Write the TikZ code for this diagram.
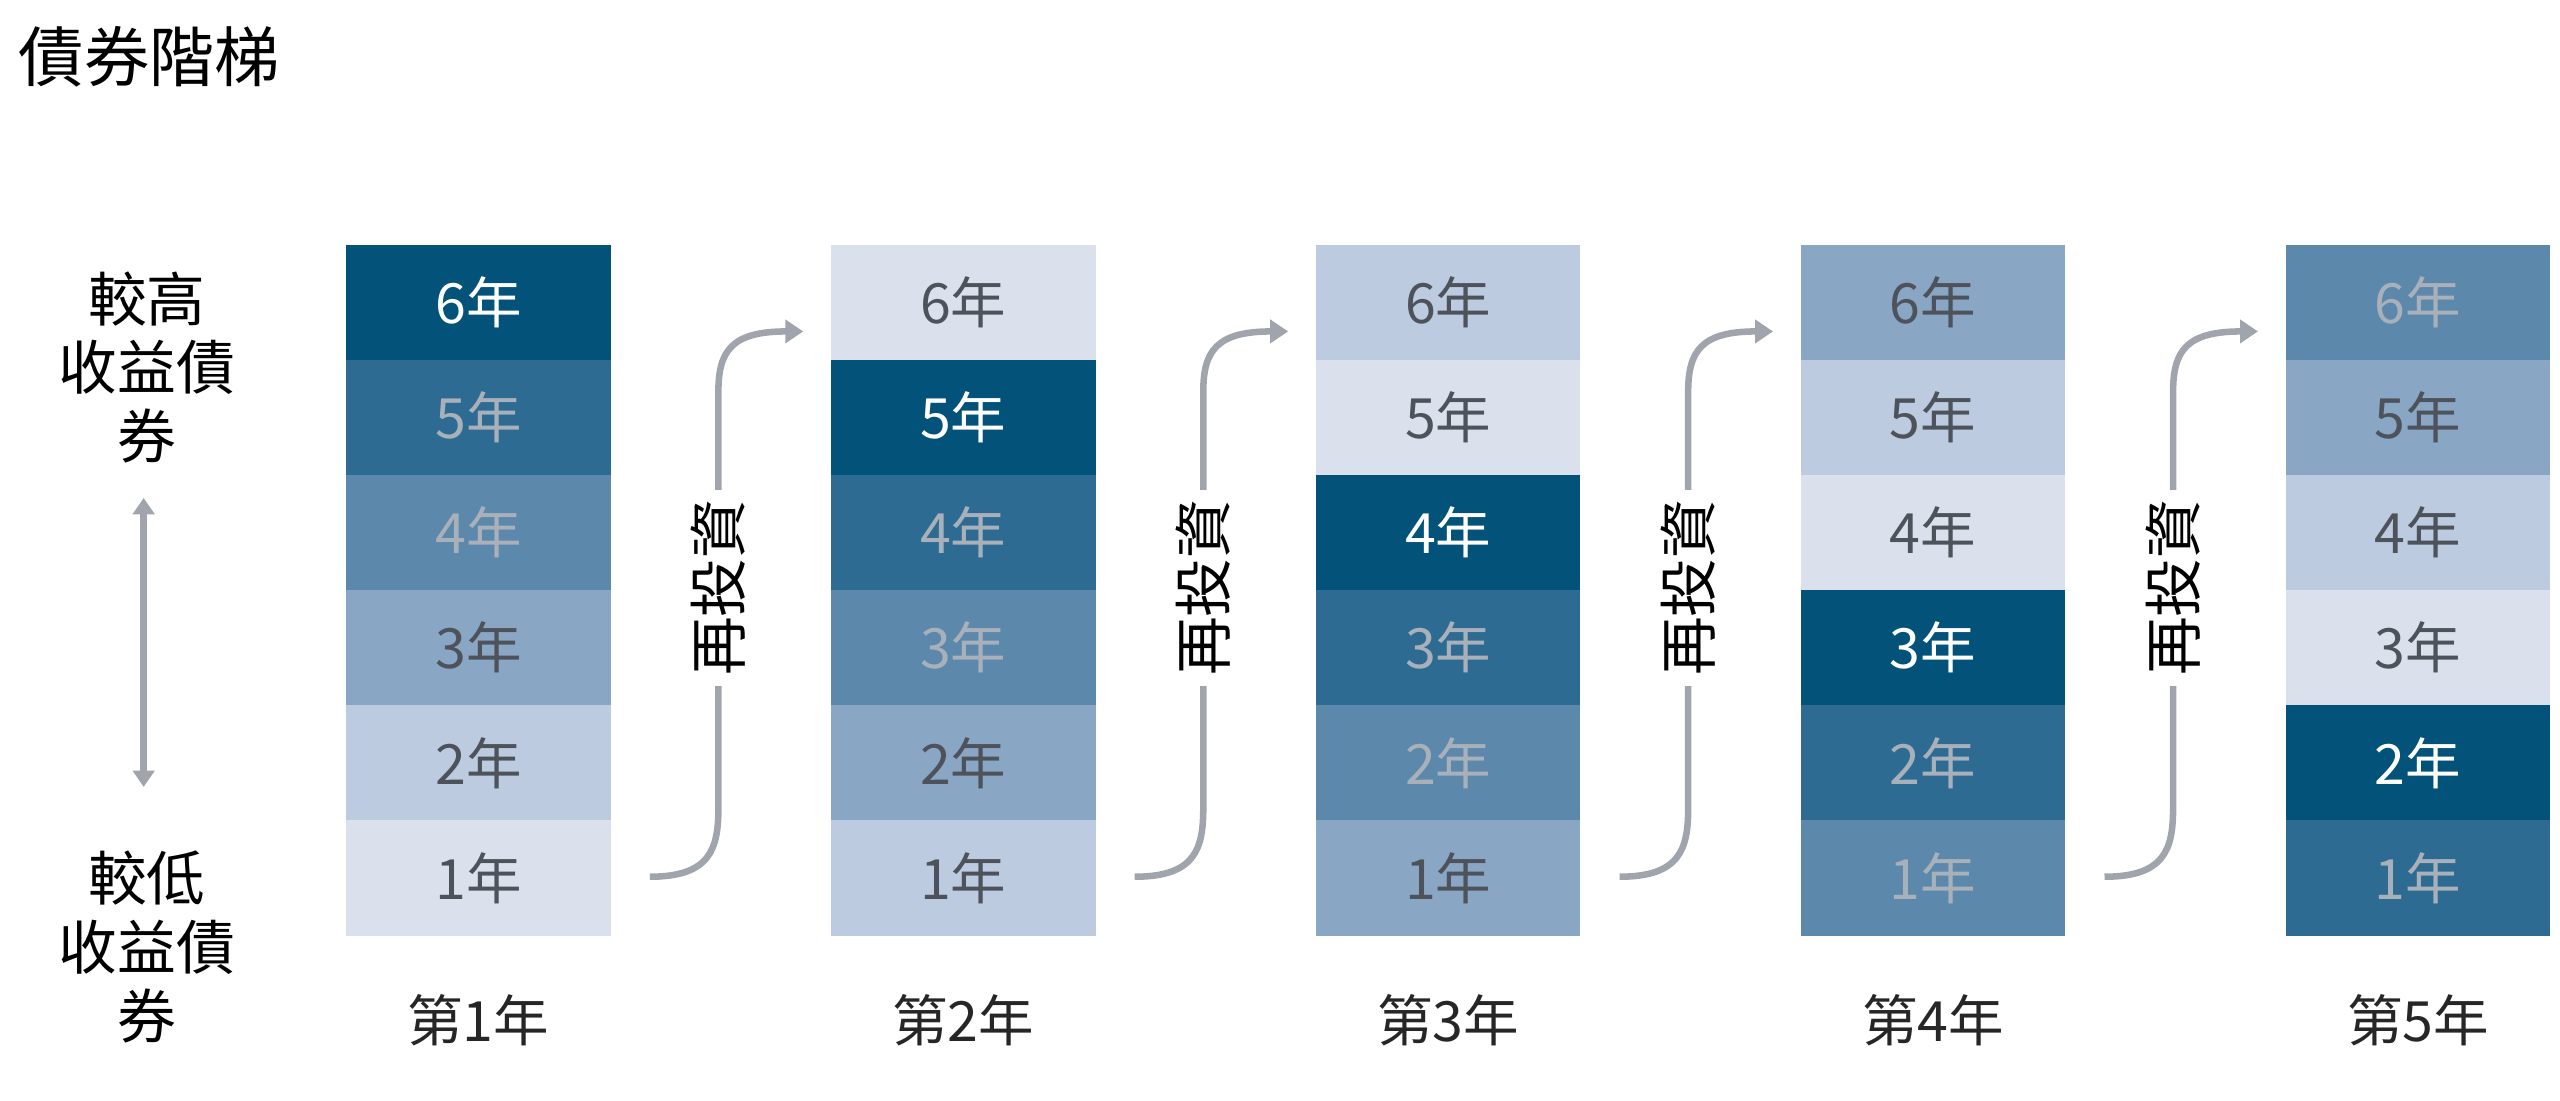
\documentclass[tikz,border=0pt]{standalone}
\usepackage{fontspec}
\setmainfont{Noto Sans CJK TC}
\usetikzlibrary{arrows.meta}
\definecolor{Lzero}{HTML}{DAE1ED}
\definecolor{Lone}{HTML}{BCCBDF}
\definecolor{Ltwo}{HTML}{89A6C4}
\definecolor{Lthree}{HTML}{5C88AC}
\definecolor{Lfour}{HTML}{2E6B92}
\definecolor{Lfive}{HTML}{02527A}
\definecolor{Tdark}{HTML}{4D525B}
\definecolor{Tlight}{HTML}{A8B0BA}
\definecolor{arr}{HTML}{A0A4AC}
\begin{document}
\begin{tikzpicture}[x=1pt,y=-1pt,
  cell/.style={minimum width=162pt,minimum height=70.5pt,inner sep=0pt,font=\fontsize{34}{40}\selectfont},
  lab/.style={font=\fontsize{34}{40}\selectfont,text=black!85},
  side/.style={font=\fontsize{36}{42}\selectfont,align=center},
  flow/.style={draw=arr,line width=4pt,-{Triangle[length=11pt,width=14pt]}}]
\useasboundingbox (0,0) rectangle (1568,674);
\node[anchor=west,font=\fontsize{40}{46}\selectfont] (title) at (8,35) {債券階梯};
\def\levs{{"Lzero","Lone","Ltwo","Lthree","Lfour","Lfive"}}
\def\txts{{"Tdark","Tdark","Tdark","Tlight","Tlight","white"}}
\foreach \c in {1,...,5}{
  \pgfmathsetmacro{\xc}{293+297*(\c-1)}
  \foreach \r in {1,...,6}{
    \pgfmathtruncatemacro{\lv}{mod(\r-1+\c-1,6)}
    \pgfmathsetmacro{\bg}{\levs[\lv]}
    \pgfmathsetmacro{\fg}{\txts[\lv]}
    \pgfmathsetmacro{\yc}{537.75-70.5*(\r-1)}
    \node[cell,fill=\bg,text=\fg] (c\c r\r) at (\xc,\yc) {\r 年};
  }
  \node[lab] (y\c) at (\xc,625) {第\c 年};
}
\foreach \c in {1,...,4}{
  \pgfmathsetmacro{\xa}{440+297*(\c-1)}
  \coordinate (s\c) at (\xa-42,537);
  \coordinate (e\c) at (\xa+52,203);
  \draw[flow] (s\c) .. controls (\xa-5,537) and (\xa,520) .. (\xa,495) -- (\xa,240)
     .. controls (\xa,215) and (\xa+8,203) .. (e\c);
  \node[fill=white,rotate=90,inner sep=6pt,font=\fontsize{36}{42}\selectfont] (re\c) at (\xa,360) {再投資};
}
\node[side] (hi) at (90,225) {較高\\收益債\\券};
\node[side] (lo) at (90,580) {較低\\收益債\\券};
\coordinate (ha) at (88,305);
\coordinate (hb) at (88,482);
\draw[draw=arr,line width=4pt,{Triangle[length=10pt,width=13pt]}-{Triangle[length=10pt,width=13pt]}] (ha) -- (hb);
\end{tikzpicture}
\end{document}
